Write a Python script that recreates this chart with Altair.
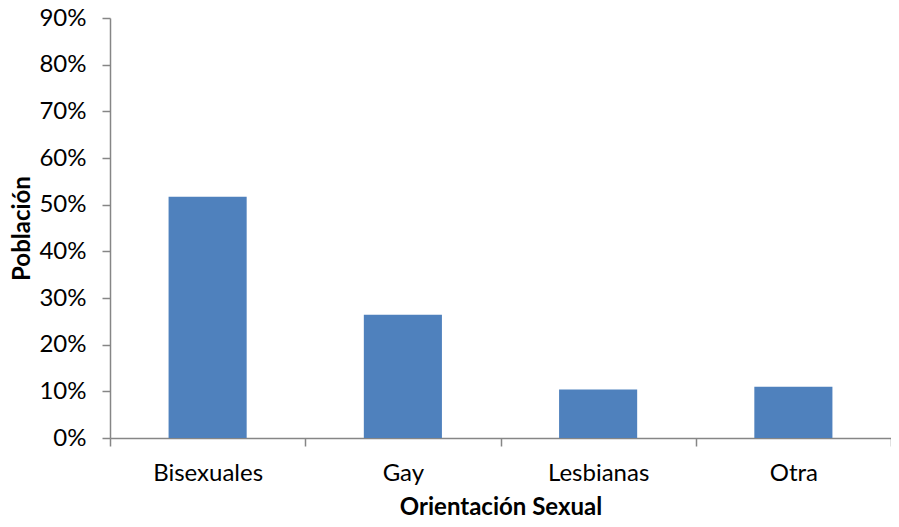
import altair as alt
import pandas as pd

categories = ["Bisexuales", "Gay", "Lesbianas", "Otra"]
values = [0.517, 0.264, 0.104, 0.110]

df = pd.DataFrame({"orientacion": categories, "poblacion": values})

FONT = "Lato"
AXIS_COLOR = "#868686"

chart = (
    alt.Chart(df)
    .mark_bar(color="#4F81BD", width=alt.RelativeBandSize(0.4))
    .encode(
        x=alt.X(
            "orientacion:N",
            sort=categories,
            scale=alt.Scale(paddingInner=0, paddingOuter=0),
            axis=alt.Axis(
                title="Orientación Sexual",
                labelAngle=0,
                tickBand="extent",
                tickSize=8,
                labelPadding=15,
                titlePadding=10,
            ),
        ),
        y=alt.Y(
            "poblacion:Q",
            scale=alt.Scale(domain=[0, 0.9], nice=False),
            axis=alt.Axis(
                title="Población",
                format=".0%",
                values=[i / 10 for i in range(10)],
                tickSize=8,
                labelPadding=16,
                titlePadding=4,
                grid=False,
            ),
        ),
    )
    .properties(
        width=781,
        height=420,
        autosize=alt.AutoSizeParams(type="none"),
        padding={"left": 102, "top": 10, "right": 0, "bottom": 81},
    )
    .configure_view(stroke=None)
    .configure_axis(
        domainColor=AXIS_COLOR,
        tickColor=AXIS_COLOR,
        domainWidth=1.5,
        tickWidth=1.5,
        labelFont=FONT,
        titleFont=FONT,
        labelFontSize=24,
        titleFontSize=24,
        labelColor="#000000",
        titleColor="#000000",
        labelFontWeight="normal",
        titleFontWeight="bold",
    )
)

chart.save("out.html", embed_options={"renderer": "svg", "actions": False})
